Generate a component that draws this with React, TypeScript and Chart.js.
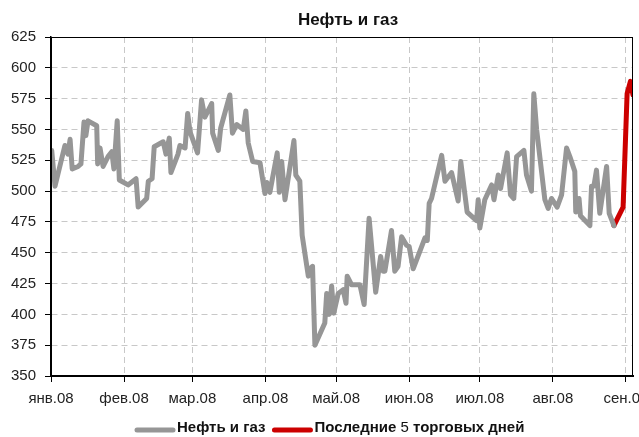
import React, { useEffect, useRef } from "react";
import { Chart, registerables } from "chart.js";

Chart.register(...registerables);

const chartTitle = "Нефть и газ";
const monthStarts = [0, 31, 60, 91, 121, 152, 182, 213, 244];
const monthLabels = ["янв.08", "фев.08", "мар.08", "апр.08", "май.08", "июн.08", "июл.08", "авг.08", "сен.08"];
const yTickMin = 350;
const yTickMax = 625;
const yTickStep = 25;
const xDayMax = 247;

const grayName = "Нефть и газ";
const grayDays = [
  0.3, 1.7, 5.9, 7.2, 8.1, 9.0, 11.5, 12.7, 14.0, 14.8,
  15.7, 19.4, 19.8, 20.8, 22.1, 24.2, 25.8, 26.7, 28.1, 29.0,
  32.7, 36.1, 37.0, 40.6, 41.3, 42.9, 43.8, 47.6, 48.8, 50.2,
  50.9, 53.9, 54.7, 56.9, 58.0, 59.0, 62.2, 63.9, 65.3, 68.2,
  68.6, 71.0, 72.0, 75.9, 77.0, 78.8, 81.6, 82.7, 83.7, 85.6,
  88.7, 90.8, 91.6, 92.9, 96.0, 96.9, 97.9, 99.3, 103.1, 103.9,
  105.6, 106.6, 109.2, 109.9, 111.0, 112.0, 116.2, 117.0, 118.1, 119.1,
  120.0, 121.9, 124.0, 125.2, 125.7, 127.6, 131.1, 132.9, 135.0, 137.8,
  139.9, 141.0, 141.7, 144.5, 145.9, 147.3, 148.8, 150.9, 152.0, 153.7,
  157.3, 158.7, 159.7, 160.5, 161.5, 165.8, 167.2, 170.0, 172.8, 173.9,
  176.6, 180.6, 181.3, 182.0, 184.1, 187.0, 188.0, 189.8, 190.8, 193.6,
  195.0, 196.4, 197.6, 200.7, 201.8, 203.9, 204.9, 206.1, 209.6, 211.0,
  212.4, 214.8, 216.7, 218.8, 220.2, 222.3, 222.7, 224.1, 224.7, 228.7,
  229.4, 230.4, 231.5, 232.9, 235.8, 236.9, 238.9,
];
const grayValues = [
  533, 504, 537, 530, 542, 518, 520, 522, 556, 545,
  557, 553, 522, 535, 520, 528, 532, 518, 557, 509,
  505, 510, 487, 494, 508, 510, 536, 540, 530, 543,
  515, 530, 537, 535, 563, 548, 531, 574, 560, 571,
  547, 533, 551, 578, 547, 554, 550, 565, 539, 524,
  523, 498, 507, 499, 531, 499, 524, 493, 541, 513,
  508, 464, 431, 437, 439, 375, 393, 417, 400, 423,
  401, 417, 420, 409, 431, 424, 424, 408, 478, 418,
  447, 435, 435, 468, 435, 439, 463, 456, 455, 437,
  455, 462, 460, 490, 494, 529, 508, 515, 492, 524,
  483, 476, 493, 470, 493, 505, 493, 513, 502, 531,
  497, 494, 528, 533, 513, 500, 579, 550, 493, 486,
  494, 487, 497, 535, 528, 516, 483, 494, 480, 472,
  504, 504, 517, 482, 520, 482, 472,
];

const redNameParts = [
  { text: "Последние ", bold: true },
  { text: "5", bold: false },
  { text: " торговых дней", bold: true },
];
const redDays = [238.9, 242.8, 244.5, 245.9, 247.0];
const redValues = [472, 487, 579, 589, 578];

const GRAY = "#969696";
const RED = "#cc0000";
const TICK_FONT = "'Liberation Sans', Arial, sans-serif";
const BOLD_FONT = "'Liberation Sans', Arial, sans-serif";

const decorPlugin = {
  id: "decor",
  afterDraw(chart: any) {
    const { ctx, chartArea } = chart;
    ctx.save();
    // plot frame
    ctx.strokeStyle = "#000";
    ctx.lineWidth = 1;
    ctx.strokeRect(chartArea.left + 0.5, chartArea.top + 0.5, chartArea.right - chartArea.left - 1, chartArea.bottom - chartArea.top);

    // title
    ctx.fillStyle = "#111";
    ctx.font = `bold 17px ${BOLD_FONT}`;
    ctx.textAlign = "center";
    ctx.textBaseline = "middle";
    ctx.fillText(chartTitle, 348, 20);

    // legend
    ctx.textAlign = "left";
    const legendY = 428;
    const swatch = 40;
    let x = 135;
    const drawSwatch = (color: string) => {
      ctx.strokeStyle = color;
      ctx.lineWidth = 5;
      ctx.lineCap = "round";
      ctx.beginPath();
      ctx.moveTo(x + 2, legendY + 2);
      ctx.lineTo(x + swatch - 2, legendY + 2);
      ctx.stroke();
      x += swatch + 2;
    };
    drawSwatch(GRAY);
    ctx.fillStyle = "#111";
    ctx.font = `bold 15px ${BOLD_FONT}`;
    ctx.fillText(grayName, x, legendY);
    x += ctx.measureText(grayName).width + 7;
    drawSwatch(RED);
    for (const part of redNameParts) {
      ctx.font = `${part.bold ? "bold " : ""}15px ${part.bold ? BOLD_FONT : TICK_FONT}`;
      ctx.fillStyle = "#111";
      ctx.fillText(part.text, x, legendY);
      x += ctx.measureText(part.text).width;
    }
    ctx.restore();
  },
};

export default function App() {
  const canvasRef = useRef<HTMLCanvasElement | null>(null);

  useEffect(() => {
    if (!canvasRef.current) return;
    const grayData = grayDays.map((d, i) => ({ x: d, y: grayValues[i] }));
    const redData = redDays.map((d, i) => ({ x: d, y: redValues[i] }));
    const chart = new Chart(canvasRef.current, {
      type: "line",
      data: {
        datasets: [
          {
            label: grayName,
            data: grayData,
            borderColor: GRAY,
            borderWidth: 5,
            pointRadius: 0,
            tension: 0,
            borderJoinStyle: "round",
            borderCapStyle: "round",
          },
          {
            label: redNameParts.map((p) => p.text).join(""),
            data: redData,
            borderColor: RED,
            borderWidth: 5,
            pointRadius: 0,
            tension: 0,
            borderJoinStyle: "round",
            borderCapStyle: "round",
          },
        ],
      },
      options: {
        responsive: false,
        animation: false,
        devicePixelRatio: 1,
        layout: { padding: { top: 37, right: 6, left: 0, bottom: 0 } },
        plugins: {
          legend: { display: false },
          title: { display: false },
          tooltip: { enabled: false },
        },
        scales: {
          x: {
            type: "linear",
            min: 0,
            max: xDayMax,
            afterBuildTicks: (scale: any) => {
              scale.ticks = monthStarts.map((v) => ({ value: v }));
            },
            afterFit: (scale: any) => {
              scale.height = 61;
              scale.paddingRight = 0;
              scale.paddingLeft = 0;
            },
            ticks: {
              autoSkip: false,
              maxRotation: 0,
              padding: 8,
              color: "#222",
              font: { family: TICK_FONT, size: 15 },
              callback: (value: any) => {
                const i = monthStarts.indexOf(Number(value));
                return i >= 0 ? monthLabels[i] : "";
              },
            },
            grid: {
              color: "#c8c8c8",
              lineWidth: 1,
              tickLength: 6,
              tickColor: "#000",
              tickWidth: 1,
            },
            border: { display: true, color: "#000", width: 2, dash: [6, 4] },
          },
          y: {
            min: yTickMin,
            max: yTickMax,
            afterFit: (scale: any) => {
              scale.width = 51;
            },
            ticks: {
              stepSize: yTickStep,
              padding: 9,
              color: "#222",
              font: { family: TICK_FONT, size: 15 },
            },
            grid: {
              color: "#c8c8c8",
              lineWidth: 1,
              tickLength: 6,
              tickColor: "#000",
              tickWidth: 1,
            },
            border: { display: true, color: "#000", width: 1.5, dash: [6, 4] },
          },
        },
      },
      plugins: [decorPlugin],
    });
    return () => chart.destroy();
  }, []);

  return (
    <div style={{ position: "absolute", left: 0, top: 0, width: 639, height: 437, overflow: "hidden", background: "#fff" }}>
      <canvas ref={canvasRef} width={639} height={437} />
    </div>
  );
}
